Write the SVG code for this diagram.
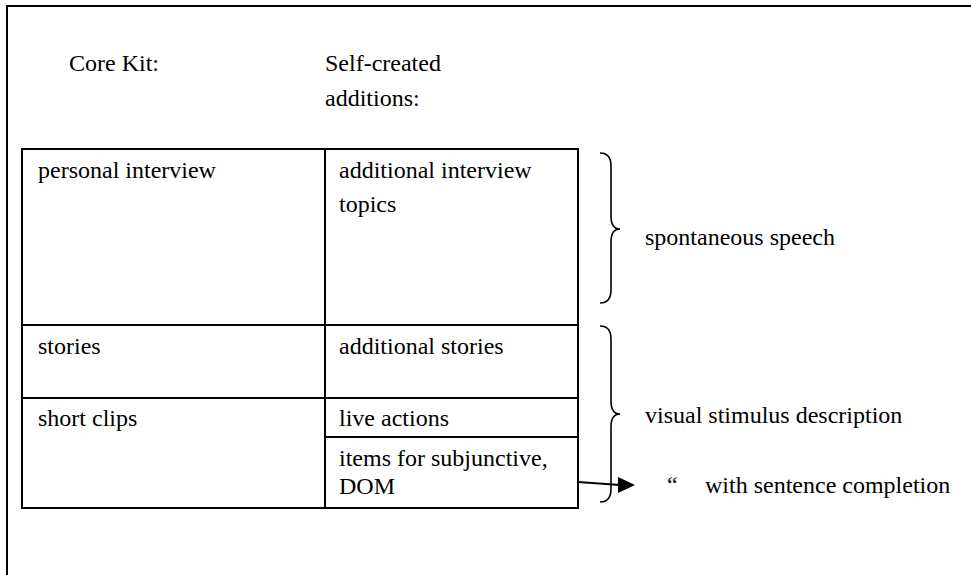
<svg xmlns="http://www.w3.org/2000/svg" width="971" height="575" viewBox="0 0 971 575">
<style>
text{font-family:"Liberation Serif","Times New Roman",serif;font-size:24px;fill:#000}
.ln{fill:none;stroke:#000;stroke-width:2}
.br{fill:none;stroke:#000;stroke-width:1.6}
</style>
<defs>
<marker id="ah" markerWidth="8" markerHeight="8" refX="8" refY="4" orient="auto" markerUnits="userSpaceOnUse" viewBox="0 0 8 8">
<path d="M0,0 L8,4 L0,8 Z" fill="#000"/>
</marker>
</defs>
<rect width="971" height="575" fill="#fff"/>
<path class="ln" d="M7,575 V6 H971"/>
<g id="headers">
<text x="69" y="71">Core Kit:</text>
<text x="325" y="71">Self-created</text>
<text x="325" y="106">additions:</text>
</g>
<g id="table">
<rect class="ln" x="22" y="149" width="556" height="359"/>
<path class="ln" d="M325,149 V508 M22,325 H578 M22,398 H578 M325,437 H578"/>
</g>
<g id="cell-personal-interview"><text x="38" y="178">personal interview</text></g>
<g id="cell-additional-interview"><text x="339" y="178">additional interview</text><text x="339" y="212">topics</text></g>
<g id="cell-stories"><text x="38" y="354">stories</text></g>
<g id="cell-additional-stories"><text x="339" y="354">additional stories</text></g>
<g id="cell-short-clips"><text x="38" y="426">short clips</text></g>
<g id="cell-live-actions"><text x="339" y="426">live actions</text></g>
<g id="cell-items"><text x="339" y="466">items for subjunctive,</text><text x="339" y="494">DOM</text></g>
<g id="brace-spontaneous">
<path class="br" d="M600,153 Q611,153 611,166 V216 Q611,229 620,229 Q611,229 611,242 V290 Q611,303 600,303"/>
<text x="645" y="245">spontaneous speech</text>
</g>
<g id="brace-visual">
<path class="br" d="M600,326 Q611,326 611,339 V401 Q611,414 620,414 Q611,414 611,427 V489 Q611,502 600,502"/>
<text x="645" y="423">visual stimulus description</text>
</g>
<g id="sentence-completion">
<text x="667" y="493">&#8220;</text>
<text x="705" y="493">with sentence completion</text>
</g>
<g id="connectors">
<path d="M578,482 L620,485" fill="none" stroke="#000" stroke-width="2"/>
<path d="M618,477 L635,485 L618,493 Z" fill="#000"/>
</g>
</svg>
